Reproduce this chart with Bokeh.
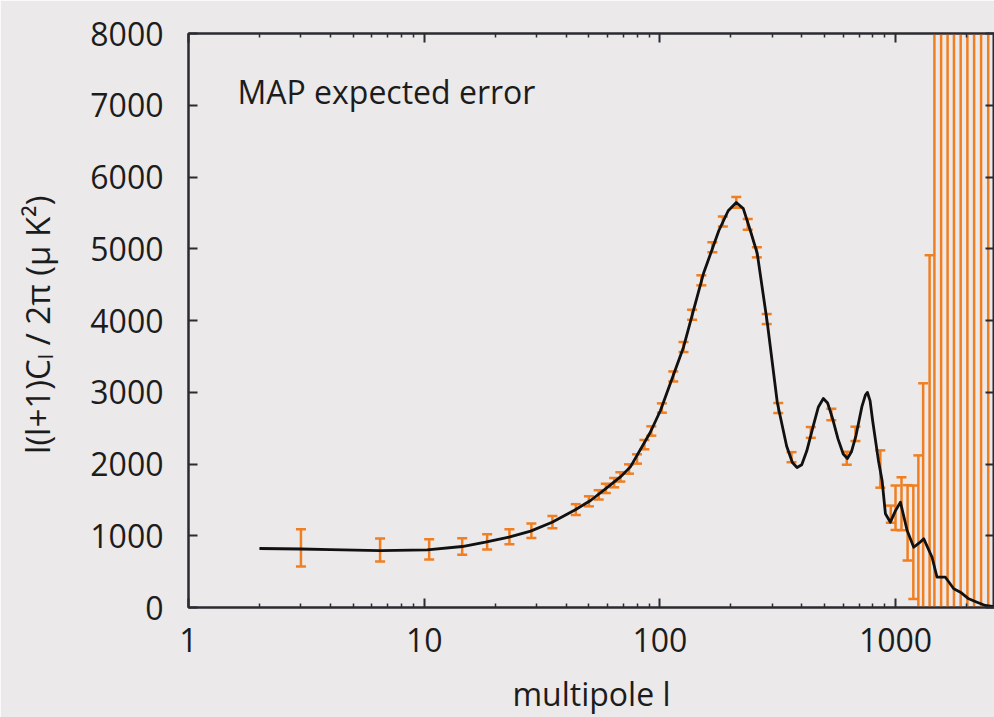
from bokeh.plotting import figure
from bokeh.models import (ColumnDataSource, LogAxis, LinearAxis, FixedTicker,
                          NumeralTickFormatter, CustomJSTickFormatter, Label)
from bokeh.embed import file_html
from bokeh.resources import INLINE

# Theory angular power spectrum l(l+1)C_l/2pi in uK^2
ell_curve = [2, 3, 4, 6.5, 10.3, 14.5, 18.2, 22.9, 28.3, 34.9, 43.8, 50.8, 58.8,
             68, 75, 91, 100.6, 126, 153, 178, 195, 211, 226, 242, 259, 286, 315,
             345, 365, 382, 400, 420, 450, 470, 494, 515, 540, 570, 600, 625, 650,
             680, 720, 745, 760, 780, 800, 846, 877, 906, 951, 1000, 1049, 1120,
             1195, 1260, 1318, 1429, 1500, 1628, 1766, 1885, 2044, 2217, 2404, 2630]
dl_curve = [822, 815, 808, 794, 804, 850, 910, 980, 1064, 1189, 1362, 1491, 1654,
            1820, 1960, 2439, 2746, 3628, 4651, 5254, 5530, 5645, 5560, 5254, 4934,
            3958, 2857, 2250, 2020, 1951, 1990, 2180, 2560, 2790, 2913, 2850, 2640,
            2350, 2140, 2077, 2170, 2400, 2800, 2960, 2997, 2880, 2600, 2050, 1770,
            1306, 1189, 1350, 1468, 1073, 840, 900, 957, 700, 422, 422, 261, 213,
            121, 74, 28, 10]

# Binned band powers with the expected 1-sigma error
ell_bins = [3, 6.5, 10.5, 14.5, 18.5, 23, 28.5, 35, 44, 50, 55, 59, 64, 68, 74,
            80, 86, 92, 102, 114, 126, 137, 150, 167, 185, 211, 236, 258, 284, 318,
            362, 437, 534, 621, 676, 862, 955, 1000, 1060, 1125, 1190, 1250, 1310,
            1395, 1462, 1561, 1663, 1770, 1890, 2018, 2155, 2307, 2474]
dl_bins = [830, 800, 810, 850, 915, 985, 1070, 1190, 1365, 1480, 1570, 1660, 1740,
           1820, 1930, 2070, 2270, 2460, 2780, 3220, 3630, 4080, 4560, 5020, 5380,
           5645, 5340, 4950, 4020, 2780, 2095, 2440, 2690, 2080, 2420, 1930, 1300,
           1390, 1445, 1180, 910, 850, 900, 850, 450, 430, 330, 260, 213, 130, 80,
           45, 20]
dl_err = [260, 160, 140, 115, 105, 105, 100, 85, 75, 70, 65, 65, 65, 65, 65, 65,
          65, 65, 65, 70, 70, 70, 70, 70, 70, 75, 75, 70, 70, 70, 70, 75, 80, 90,
          100, 260, 120, 310, 370, 525, 790, 1270, 2225, 4060, 12000, 12000, 12000,
          12000, 12000, 12000, 12000, 12000, 12000]

x_ticks = [1, 10, 100, 1000]
x_minor = [2, 3, 4, 5, 6, 7, 8, 9, 20, 30, 40, 50, 60, 70, 80, 90,
           200, 300, 400, 500, 600, 700, 800, 900, 2000]
y_ticks = [0, 1000, 2000, 3000, 4000, 5000, 6000, 7000, 8000]

BG = "#ebe9ea"
INK = "#1c1c1c"
AXIS = "#2b2b30"
ERR = "#f07f22"
FONT = "Open Sans"

p = figure(width=994, height=717, x_axis_type="log", x_range=(1, 2630),
           y_range=(0, 8000), output_backend="svg", toolbar_location=None,
           min_border_left=188, min_border_right=0, min_border_top=33,
           min_border_bottom=110, background_fill_color=BG,
           border_fill_color=BG, outline_line_color=AXIS, outline_line_width=2)
p.grid.visible = False

lo = [v - e for v, e in zip(dl_bins, dl_err)]
hi = [v + e for v, e in zip(dl_bins, dl_err)]
bars = ColumnDataSource(dict(l=ell_bins, lo=lo, hi=hi))
p.segment(x0="l", y0="lo", x1="l", y1="hi", source=bars, line_color=ERR,
          line_width=2.5)
p.scatter(x="l", y="lo", source=bars, marker="dash", size=10, line_color=ERR,
          line_width=2.5)
p.scatter(x="l", y="hi", source=bars, marker="dash", size=10, line_color=ERR,
          line_width=2.5)

p.line(ell_curve, dl_curve, line_color="#111111", line_width=2.8,
       line_join="round")


def style(ax, labels=True):
    ax.axis_line_color = AXIS
    ax.axis_line_width = 2
    ax.major_tick_line_color = AXIS
    ax.major_tick_line_width = 2
    ax.major_tick_in = 9
    ax.major_tick_out = 0
    ax.minor_tick_line_color = AXIS
    ax.minor_tick_line_width = 1.5
    ax.minor_tick_in = 4
    ax.minor_tick_out = 0
    if labels:
        ax.major_label_text_font = FONT
        ax.major_label_text_font_size = "32px"
        ax.major_label_text_color = INK
        ax.axis_label_text_font = FONT
        ax.axis_label_text_font_style = "normal"
        ax.axis_label_text_color = INK
    else:
        ax.formatter = CustomJSTickFormatter(code="return ''")
        ax.major_label_text_font_size = "0px"
        ax.major_label_standoff = 0


xticker = FixedTicker(ticks=x_ticks, minor_ticks=x_minor)
yticker = FixedTicker(ticks=y_ticks, minor_ticks=[])

xa = p.xaxis[0]
xa.ticker = xticker
xa.formatter = NumeralTickFormatter(format="0")
style(xa)
xa.major_label_standoff = 20
xa.axis_label = "multipole l"
xa.axis_label_text_font_size = "32px"
xa.axis_label_text_baseline = "top"
xa.axis_label_standoff = 17

ya = p.yaxis[0]
ya.ticker = yticker
style(ya)
ya.major_label_standoff = 25
ya.axis_label = "l(l+1)C\u2097 / 2\u03c0  (\u03bc K\u00b2)"
ya.axis_label_text_font_size = "33px"
ya.axis_label_standoff = 27

top = LogAxis(ticker=xticker)
style(top, labels=False)
p.add_layout(top, "above")

right = LinearAxis(ticker=yticker)
style(right, labels=False)
p.add_layout(right, "right")

p.add_layout(Label(x=49, y=516, x_units="screen", y_units="screen",
                   text="MAP expected error", text_font=FONT,
                   text_font_size="32px", text_color=INK,
                   text_baseline="alphabetic"))

open("out.html", "w").write(file_html(p, INLINE))
